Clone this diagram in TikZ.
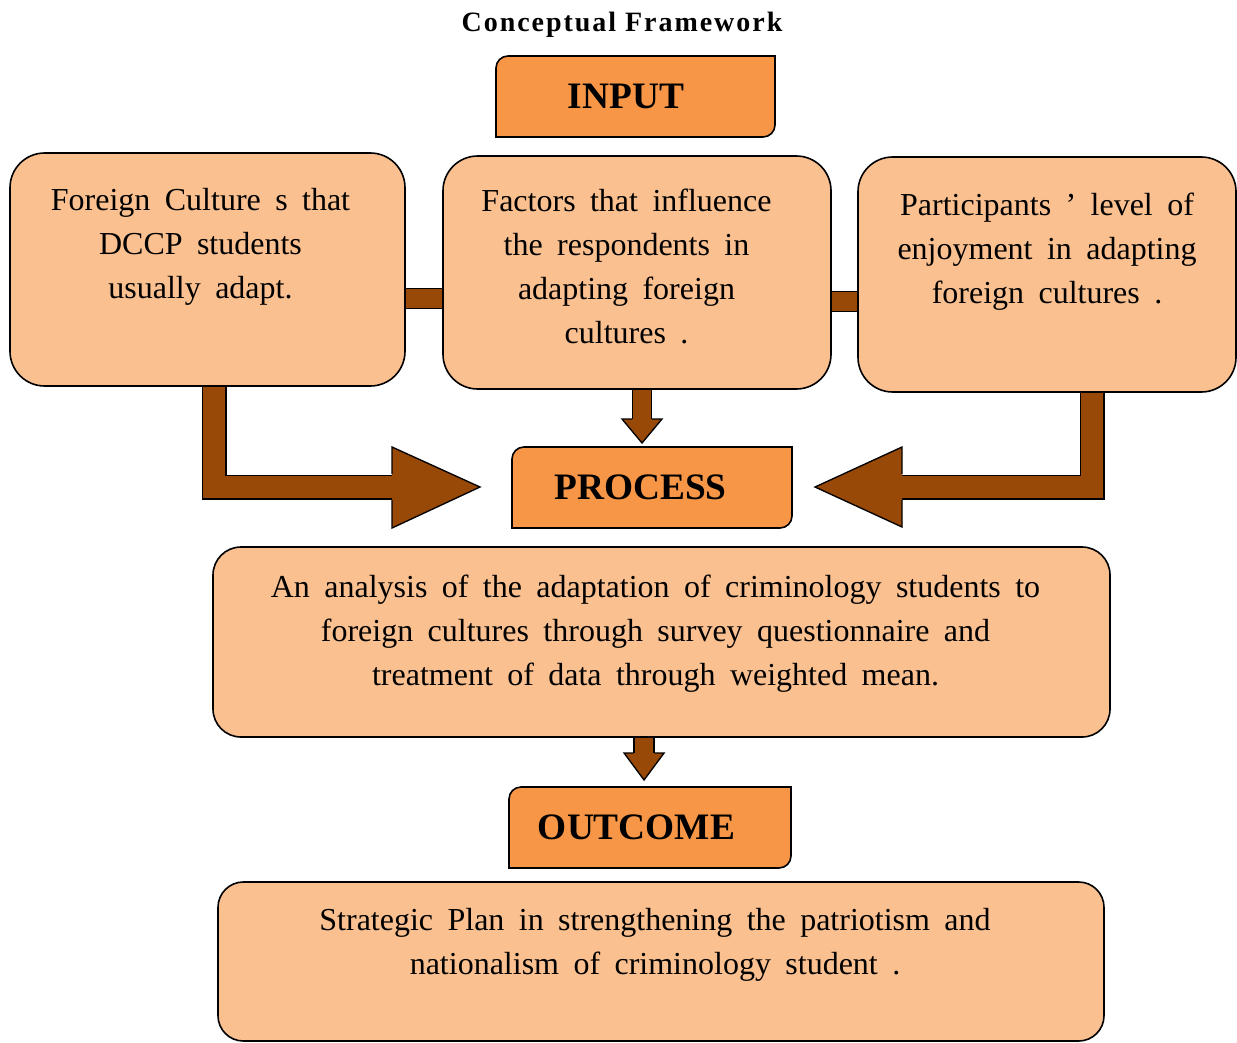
\documentclass[tikz,border=0pt]{standalone}
\usepackage{fontspec}
\setmainfont{Liberation Serif}
\newfontfamily\widesp[WordSpace=1.8]{Liberation Serif}
\usetikzlibrary{backgrounds,calc}
\definecolor{boxfill}{HTML}{FAC090}
\definecolor{lblfill}{HTML}{F79646}
\definecolor{arrowbrown}{HTML}{984807}
\begin{document}
\begin{tikzpicture}[x=0.75pt,y=0.75pt,
  bigbox/.style={draw=black, fill=boxfill, line width=1.2pt, inner sep=0pt, outer sep=0pt},
  lblbox/.style={draw=none, inner sep=0pt, outer sep=0pt, minimum height=60.75pt},
  lblshape/.style={draw=black, fill=lblfill, line width=1.2pt},
  lbltxt/.style={font=\bfseries\fontsize{28}{34}\selectfont, inner sep=0pt},
  body/.style={font=\widesp\fontsize{24}{33}\selectfont, align=center, inner sep=0pt},
  shaft/.style={draw=black, line width=1pt, double=arrowbrown},
  head/.style={draw=black, fill=arrowbrown, line width=1pt, line join=miter}]
\useasboundingbox (0,0) rectangle (1237,-1042);

% title
\node[font=\bfseries\fontsize{21}{25}\selectfont\addfontfeature{LetterSpace=7}] (title) at (622,-25) {Conceptual Framework};

% label boxes
\node[lblbox, minimum width=209.25pt] (input) at (635.5,-96.5) {};
\node[lbltxt] (inputtxt) at ($(input.center)+(-9.5,0)$) {INPUT};
\node[lblbox, minimum width=210pt] (process) at (652,-487.5) {};
\node[lbltxt] (processtxt) at ($(process.center)+(-11.5,0)$) {PROCESS};
\node[lblbox, minimum width=211.5pt] (outcome) at (650,-827.5) {};
\node[lbltxt] (outcometxt) at ($(outcome.center)+(-13.5,0)$) {OUTCOME};

% input boxes
\node[bigbox, rounded corners=26pt, minimum width=296.25pt, minimum height=174.75pt] (left) at (207.5,-269.5) {};
\node[bigbox, rounded corners=26pt, minimum width=291pt, minimum height=174.75pt] (mid) at (637,-272.5) {};
\node[bigbox, rounded corners=26pt, minimum width=283.5pt, minimum height=176.25pt] (right) at (1047,-274.5) {};
\node[body] (lefttxt) at ($(left.center)+(-7,22.5)$) {Foreign Culture s that\\DCCP students\\usually adapt.};
\node[body] (midtxt) at ($(mid.center)+(-10.5,6.5)$) {Factors that influence\\the respondents in\\adapting foreign\\cultures .};
\node[body] (righttxt) at ($(right.center)+(0,22.5)$) {Participants ’ level of\\enjoyment in adapting\\foreign cultures .};

% process box
\node[bigbox, rounded corners=21pt, minimum width=672.75pt, minimum height=142.5pt] (procbox) at (661.5,-642) {};
\node[body] (proctxt) at ($(procbox.center)+(-6,8)$) {An analysis of the adaptation of criminology students to\\foreign cultures through survey questionnaire and\\treatment of data through weighted mean.};

% outcome box
\node[bigbox, rounded corners=19pt, minimum width=664.5pt, minimum height=119.25pt] (outbox) at (661,-961.5) {};
\node[body] (outtxt) at ($(outbox.center)+(-6,16.5)$) {Strategic Plan in strengthening the patriotism and\\nationalism of criminology student .};

\begin{scope}[on background layer]
  % bars between input boxes
  \coordinate (b1) at ([yshift=-21.75pt]left.east);
  \draw[shaft, double distance=13.75pt] (b1) -- (b1 -| mid.west);
  \coordinate (b2) at ([yshift=-21.75pt]mid.east);
  \draw[shaft, double distance=13.75pt] (b2) -- (b2 -| right.west);

  % left elbow arrow
  \coordinate (lbase) at (392,-487);
  \coordinate (ltip) at (480,-487);
  \draw[shaft, double distance=16.75pt] ([xshift=4.9pt]left.south) |- (lbase);
  \filldraw[head] ($(lbase)+(0,13)$) -- ($(lbase)+(0,40)$) -- (ltip) -- ($(lbase)+(0,-41)$) -- ($(lbase)+(0,-13)$);

  % right elbow arrow
  \coordinate (rbase) at (902,-487);
  \coordinate (rtip) at (815,-487);
  \draw[shaft, double distance=16.75pt] ([xshift=33.75pt]right.south) |- (rbase);
  \filldraw[head] ($(rbase)+(0,13)$) -- ($(rbase)+(0,40)$) -- (rtip) -- ($(rbase)+(0,-40)$) -- ($(rbase)+(0,-13)$);

  % mid -> process
  \coordinate (m1) at ([xshift=3.75pt]mid.south);
  \coordinate (ptop) at ([yshift=3pt]process.north);
  \coordinate (m1tip) at (m1 |- ptop);
  \coordinate (m1base) at ($(m1tip)+(0,24)$);
  \draw[shaft, double distance=13pt] (m1) -- (m1base);
  \filldraw[head] ($(m1base)+(-10,0)$) -- ($(m1base)+(-20,0)$) -- (m1tip) -- ($(m1base)+(20,0)$) -- ($(m1base)+(10,0)$);

  % procbox -> outcome
  \coordinate (p1) at ([xshift=-13.1pt]procbox.south);
  \coordinate (otop) at ([yshift=5.25pt]outcome.north);
  \coordinate (p1tip) at (p1 |- otop);
  \coordinate (p1base) at ($(p1tip)+(0,27)$);
  \draw[shaft, double distance=14pt] (p1) -- (p1base);
  \filldraw[head] ($(p1base)+(-10.5,0)$) -- ($(p1base)+(-20,0)$) -- (p1tip) -- ($(p1base)+(20,0)$) -- ($(p1base)+(10.5,0)$);

  % label shapes
  \foreach \n in {input,process,outcome}{
    \filldraw[lblshape] (\n.south west) -- ([yshift=-9pt]\n.north west) arc[start angle=180,end angle=90,radius=9pt] -- (\n.north east) -- ([yshift=9pt]\n.south east) arc[start angle=0,end angle=-90,radius=9pt] -- cycle;
  }
\end{scope}
\end{tikzpicture}
\end{document}
